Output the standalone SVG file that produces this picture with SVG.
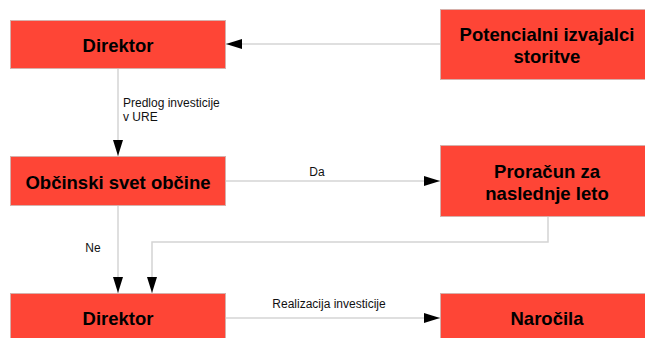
<svg xmlns="http://www.w3.org/2000/svg" width="645" height="338" viewBox="0 0 645 338">
<style>
.box{fill:#fe4536;stroke:#d6b0ab;stroke-width:1}
.bt{font-family:"Liberation Sans",Arial,sans-serif;font-weight:bold;font-size:18.5px;fill:#000;text-anchor:middle;dominant-baseline:central}
.lbl{font-family:"Liberation Sans",Arial,sans-serif;font-size:12px;fill:#111}
.edge{fill:none;stroke:#d4d4d4;stroke-width:1.5}
</style>
<defs>
<marker id="arr" viewBox="0 0 16 10" refX="16" refY="5" markerWidth="16" markerHeight="10" markerUnits="userSpaceOnUse" orient="auto">
<path d="M0,0 L16,5 L0,10 Z" fill="#000"/>
</marker>
</defs>
<g id="connectors">
<path class="edge" d="M440,44 L226,44" marker-end="url(#arr)"/>
<path class="edge" d="M118,69 L118,156" marker-end="url(#arr)"/>
<path class="edge" d="M226,181 L440,181" marker-end="url(#arr)"/>
<path class="edge" d="M118,205 L118,293" marker-end="url(#arr)"/>
<path class="edge" d="M548,216 L548,242 L152,242 L152,293" marker-end="url(#arr)"/>
<path class="edge" d="M226,318 L440,318" marker-end="url(#arr)"/>
<text class="lbl" x="123" y="107">Predlog investicije</text>
<text class="lbl" x="123" y="121">v URE</text>
<text class="lbl" x="317" y="176" text-anchor="middle">Da</text>
<text class="lbl" x="93" y="252" text-anchor="middle">Ne</text>
<text class="lbl" x="329" y="308" text-anchor="middle">Realizacija investicije</text>
</g>
<g id="direktor1">
<rect class="box" x="10.5" y="20.5" width="215" height="48"/>
<text class="bt" x="118" y="45">Direktor</text>
</g>
<g id="potencialni">
<rect class="box" x="440.5" y="9.5" width="210" height="70"/>
<text class="bt" x="547" y="34">Potencialni izvajalci</text>
<text class="bt" x="547" y="56">storitve</text>
</g>
<g id="obcinski">
<rect class="box" x="10.5" y="156.5" width="215" height="49"/>
<text class="bt" x="118" y="182">Občinski svet občine</text>
</g>
<g id="proracun">
<rect class="box" x="440.5" y="145.5" width="210" height="71"/>
<text class="bt" x="547" y="171">Proračun za</text>
<text class="bt" x="547" y="193">naslednje leto</text>
</g>
<g id="direktor2">
<rect class="box" x="10.5" y="293.5" width="215" height="50"/>
<text class="bt" x="118" y="318">Direktor</text>
</g>
<g id="narocila">
<rect class="box" x="440.5" y="293.5" width="210" height="50"/>
<text class="bt" x="547" y="318">Naročila</text>
</g>
</svg>
